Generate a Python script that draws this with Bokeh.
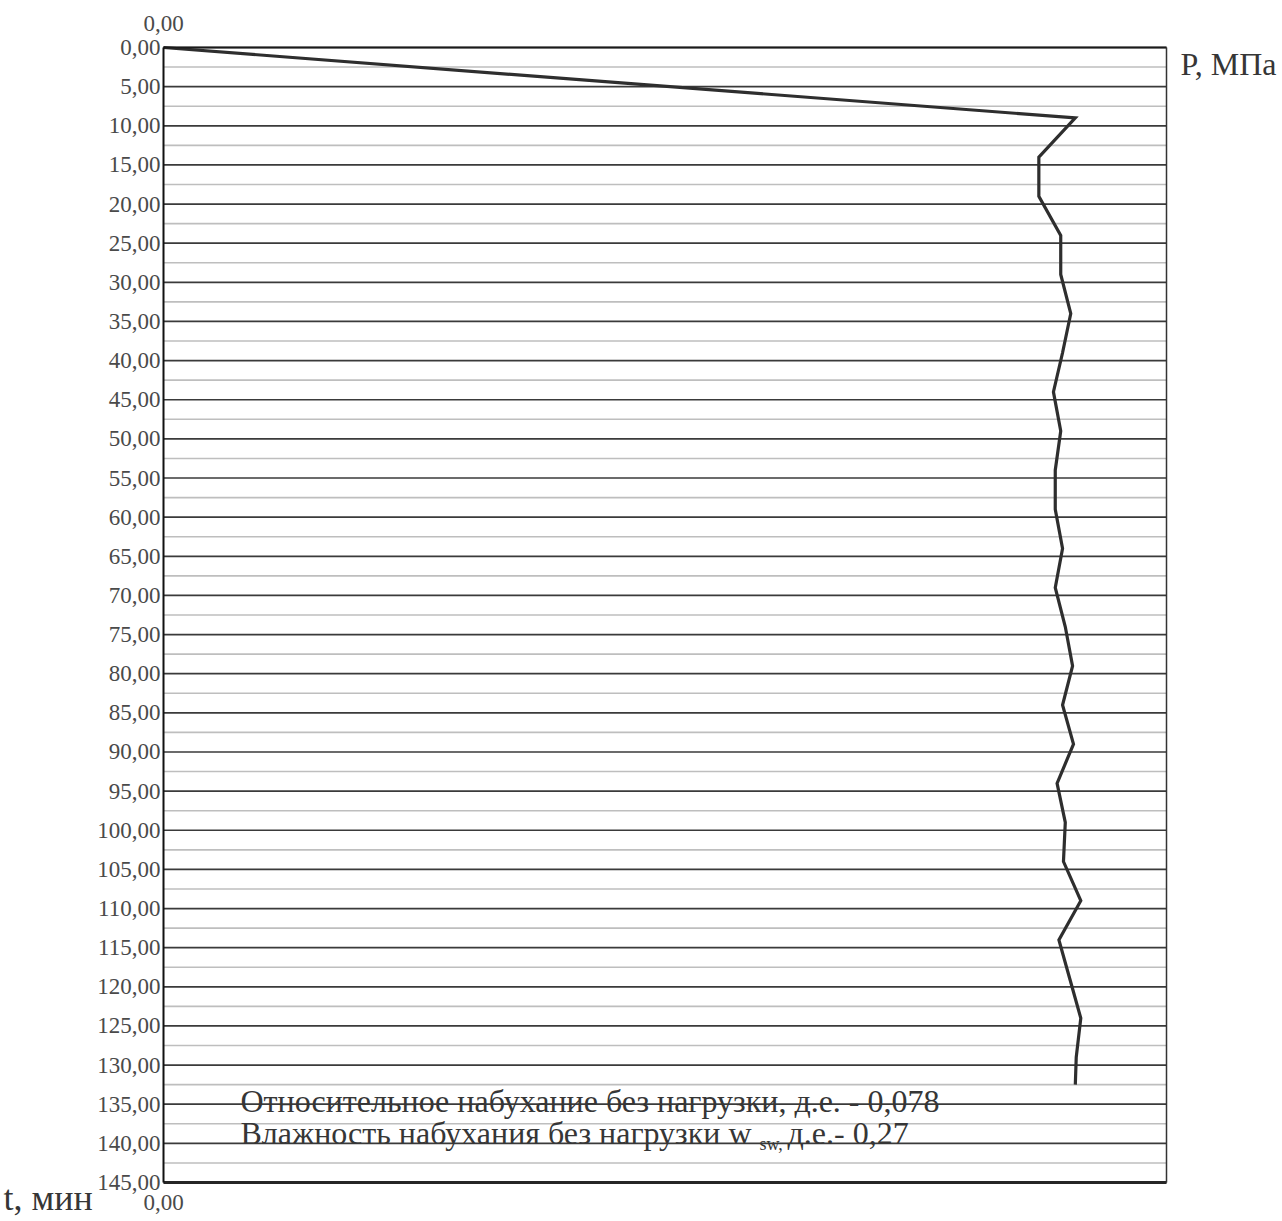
from bokeh.plotting import figure
from bokeh.models import Range1d, LinearAxis, FixedTicker, CustomJSTickFormatter, Label
from bokeh.embed import file_html
from bokeh.resources import INLINE

# ---- data ----
t_min = [0, 9, 14, 19, 24, 29, 34, 39, 44, 49, 54, 59, 64, 69, 74, 79, 84, 89,
         94, 99, 104, 109, 114, 119, 124, 129, 132.5]
p_mpa = [0, 0.1000, 0.0960, 0.0960, 0.0984, 0.0984, 0.0995, 0.0986, 0.0976,
         0.0984, 0.0978, 0.0978, 0.0986, 0.0978, 0.0989, 0.0997, 0.0986, 0.0998,
         0.0980, 0.0989, 0.0987, 0.1006, 0.0982, 0.0994, 0.1006, 0.1001, 0.1000]
t_ticks = list(range(0, 150, 5))
t_minor = [v + 2.5 for v in range(0, 145, 5)]
p_ticks = [0]
T_MAX = 145
P_MAX = 0.11
note1 = "Относительное набухание без нагрузки, д.е. - 0,078"
note2a = "Влажность набухания без нагрузки w"
note2b = "sw,"
note2c = "д.е.- 0,27"
x_label = "P, МПа"
y_label = "t, мин"

FONT = "Liberation Serif"
W, H = 1282, 1221
# plot box in page pixels
BX0, BX1, BY0, BY1 = 163, 1166, 47, 1182


def px2x(px):
    return (px - BX0) / (BX1 - BX0) * P_MAX


def py2t(py):
    return (py - BY0) / (BY1 - BY0) * T_MAX


p = figure(width=W, height=H, output_backend="svg", toolbar_location=None,
           x_range=Range1d(px2x(0), px2x(W)), y_range=Range1d(py2t(H), py2t(0)),
           x_axis_location=None, y_axis_location=None,
           min_border=0, min_border_left=0, min_border_right=0,
           min_border_top=0, min_border_bottom=0,
           background_fill_color="white", border_fill_color="white")
p.outline_line_color = None
p.xgrid.visible = False
p.ygrid.visible = False

fmt = CustomJSTickFormatter(code="return tick.toFixed(2).replace('.', ',');")


def style_axis(ax, lw, color, standoff):
    ax.axis_line_color = color
    ax.axis_line_width = lw
    ax.major_tick_out = 0
    ax.major_tick_in = 0
    ax.minor_tick_out = 0
    ax.minor_tick_in = 0
    ax.major_label_standoff = standoff
    ax.major_label_text_font = FONT
    ax.major_label_text_font_size = "23px"
    ax.major_label_text_color = "#4a4a4a"


# grid lines (major solid, minor dotted) spanning the plot box
n_maj = len(t_ticks)
n_min = len(t_minor)
p.segment(x0=[0] * n_min, x1=[P_MAX] * n_min, y0=t_minor, y1=t_minor,
          line_color="#7d7d7d", line_width=1.6, line_dash="1 1")
p.segment(x0=[0] * n_maj, x1=[P_MAX] * n_maj, y0=t_ticks, y1=t_ticks,
          line_color="#3a3a3a", line_width=1.7)

# axes fixed on the plot box
yaxis = LinearAxis(ticker=FixedTicker(ticks=t_ticks, minor_ticks=t_minor), formatter=fmt,
                   fixed_location=0, bounds=(0, T_MAX))
style_axis(yaxis, 2, "#111111", 3)
p.add_layout(yaxis, "left")

raxis = LinearAxis(ticker=FixedTicker(ticks=[]), fixed_location=P_MAX, bounds=(0, T_MAX))
style_axis(raxis, 1.5, "#333333", 3)
raxis.major_label_text_font_size = "0px"
p.add_layout(raxis, "right")

top_axis = LinearAxis(ticker=FixedTicker(ticks=p_ticks), formatter=fmt,
                      fixed_location=0, bounds=(0, P_MAX))
style_axis(top_axis, 1.8, "#1a1a1a", 17)
p.add_layout(top_axis, "above")

bot_axis = LinearAxis(ticker=FixedTicker(ticks=p_ticks), formatter=fmt,
                      fixed_location=T_MAX, bounds=(0, P_MAX))
style_axis(bot_axis, 3.2, "#262626", 12)
p.add_layout(bot_axis, "below")

# the curve
p.line(p_mpa, t_min, line_color="#2e2e2e", line_width=3.2, line_join="miter")

# texts (y given as text baseline in page pixels; Label is placed by its bottom)
TXT = "#363636"


def add_text(px, baseline_py, txt, fs):
    p.add_layout(Label(x=px2x(px), y=py2t(baseline_py + 0.22 * fs), text=txt,
                       text_font=FONT, text_font_size=f"{fs}px", text_color=TXT,
                       text_baseline="bottom"))


add_text(1180, 74, x_label, 32)
add_text(3, 1210, y_label, 36)
add_text(240, 1111, note1, 32)
add_text(240, 1143, note2a, 32)
add_text(759, 1150, note2b, 18)
add_text(787, 1143, note2c, 32)

open("out.html", "w").write(file_html(p, INLINE))
